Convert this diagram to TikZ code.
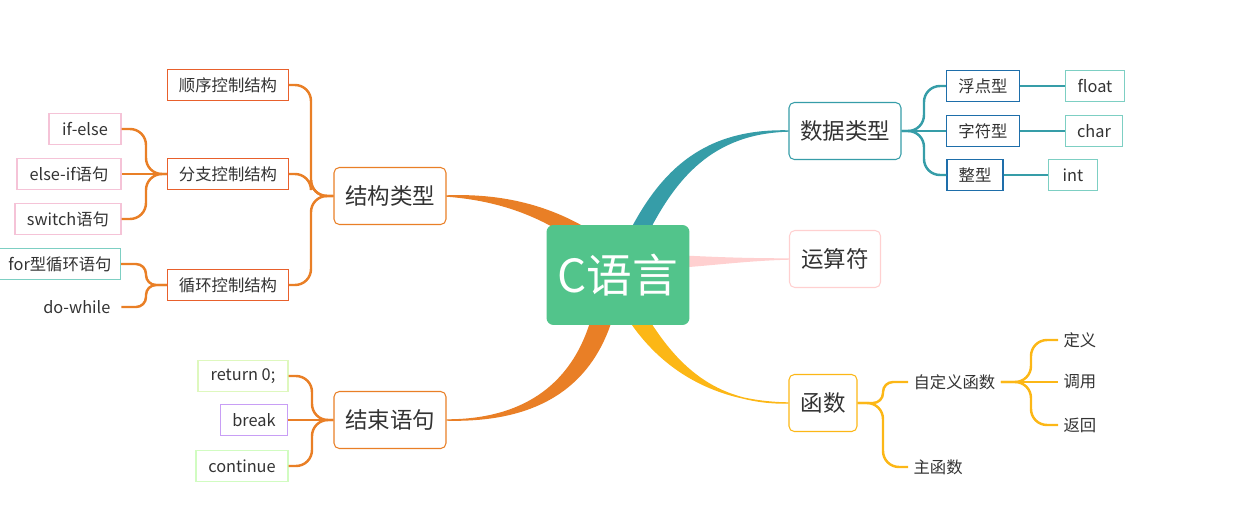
\documentclass[tikz,border=0pt]{standalone}
\usepackage{fontspec}
\setmainfont{Noto Sans CJK SC}
\usepackage{xcolor}
\definecolor{mmgreen}{RGB}{82,196,139}
\definecolor{mmorange}{RGB}{233,127,38}
\definecolor{mmred}{RGB}{232,96,44}
\definecolor{mmteal}{RGB}{54,157,168}
\definecolor{mmpink}{RGB}{255,208,208}
\definecolor{mmyellow}{RGB}{252,183,22}
\definecolor{mmblue}{RGB}{30,110,170}
\definecolor{mmaqua}{RGB}{125,207,195}
\definecolor{mmrose}{RGB}{245,195,215}
\definecolor{mmlime}{RGB}{222,248,190}
\definecolor{mmviolet}{RGB}{200,158,245}
\definecolor{mmtext}{RGB}{51,51,51}
\usepackage{tikz}
\tikzset{
  topic/.style={draw, fill=white, rounded corners=3pt, line width=0.6pt, minimum height=1.14cm, inner sep=0pt, font=\fontsize{12.8}{15}\selectfont, text=mmtext},
  sub/.style={draw, fill=white, line width=0.6pt, minimum height=0.62cm, inner sep=0pt, font=\fontsize{9.3}{11}\selectfont, text=mmtext},
  leaf/.style={inner sep=3pt, font=\fontsize{9.3}{11}\selectfont, text=mmtext},
  twig/.style={line width=1.4pt, rounded corners=0.32cm},
}

\begin{document}
\begin{tikzpicture}[x=0.02cm, y=-0.02cm]
  \useasboundingbox (0,0) rectangle (1235,508);

  % level 1 topics
  \node[topic, draw=mmorange, minimum width=2.24cm] (jg) at (390,196) {结构类型};
  \node[topic, draw=mmorange, minimum width=2.24cm] (js) at (390,420) {结束语句};
  \node[topic, draw=mmteal, minimum width=2.24cm] (sj) at (845,131) {数据类型};
  \node[topic, draw=mmpink, minimum width=1.82cm] (ys) at (835,259) {运算符};
  \node[topic, draw=mmyellow, minimum width=1.36cm] (hs) at (823,403) {函数};

  % main branches
  \filldraw[mmorange, line width=0.8pt] (jg.east) .. controls (500,194) and (545,205) .. (585,228) -- (575,240) .. controls (540,216) and (500,200) .. (jg.east) -- cycle;
  \filldraw[mmorange, line width=0.8pt] (js.east) .. controls (520,420) and (572,388) .. (592,318) -- (612,318) .. controls (588,396) and (525,422) .. (js.east) -- cycle;
  \filldraw[mmteal, line width=0.8pt] (sj.west) .. controls (705,129) and (662,170) .. (630,232) -- (646,236) .. controls (675,178) and (712,133) .. (sj.west) -- cycle;
  \filldraw[mmpink, line width=0.8pt] (ys.west) .. controls (750,259) and (720,258) .. (680,256) -- (680,267) .. controls (720,264) and (750,260) .. (ys.west) -- cycle;
  \filldraw[mmyellow, line width=0.8pt] (hs.west) .. controls (715,402) and (662,370) .. (628,318) -- (646,316) .. controls (680,372) and (720,404) .. (hs.west) -- cycle;

  % root
  \node[fill=mmgreen, rounded corners=4pt, minimum width=2.86cm, minimum height=2cm, text=white, font=\fontsize{26}{30}\selectfont] (root) at (618,275) {C语言};

  % structure types
  \node[sub, draw=mmred, minimum width=2.42cm] (sx) at (228,85) {顺序控制结构};
  \node[sub, draw=mmred, minimum width=2.42cm] (fz) at (228,174) {分支控制结构};
  \node[sub, draw=mmred, minimum width=2.42cm] (xh) at (228,285) {循环控制结构};
  \coordinate (fkA) at (311,196);
  \draw[twig, mmorange] (jg.west) -- (fkA) |- (sx.east);
  \draw[twig, mmorange] (jg.west) -- (fkA) |- (fz.east);
  \draw[twig, mmorange] (jg.west) -- (fkA) |- (xh.east);

  \node[sub, draw=mmrose, minimum width=1.44cm] (ie) at (85,129) {if-else};
  \node[sub, draw=mmrose, minimum width=2.08cm] (ei) at (69,174) {else-if语句};
  \node[sub, draw=mmrose, minimum width=2.12cm] (sw) at (68,219) {switch语句};
  \coordinate (fkB) at (146,174);
  \draw[twig, mmorange] (fz.west) -- (fkB) |- (ie.east);
  \draw[twig, mmorange] (fz.west) -- (ei.east);
  \draw[twig, mmorange] (fz.west) -- (fkB) |- (sw.east);

  \node[sub, draw=mmaqua, minimum width=2.42cm] (fr) at (60,264) {for型循环语句};
  \node[leaf, anchor=east] (dw) at (116,307) {do-while};
  \coordinate (fkC) at (146,285);
  \draw[twig, rounded corners=0.2cm, mmorange] (xh.west) -- (fkC) |- (fr.east);
  \draw[twig, rounded corners=0.2cm, mmorange] (xh.west) -- (fkC) |- ([xshift=3pt]dw.east);

  % end statements
  \node[sub, draw=mmlime, minimum width=1.8cm] (rt) at (243,376) {return 0;};
  \node[sub, draw=mmviolet, minimum width=1.34cm] (bk) at (254,420) {break};
  \node[sub, draw=mmlime!80!green!60, minimum width=1.84cm] (ct) at (242,466) {continue};
  \coordinate (fkD) at (312,420);
  \draw[twig, mmorange] (js.west) -- (fkD) |- (rt.east);
  \draw[twig, mmorange] (js.west) -- (bk.east);
  \draw[twig, mmorange] (js.west) -- (fkD) |- (ct.east);

  % data types
  \node[sub, draw=mmblue, minimum width=1.46cm] (fd) at (983,86) {浮点型};
  \node[sub, draw=mmblue, minimum width=1.46cm] (zf) at (983,131) {字符型};
  \node[sub, draw=mmblue, minimum width=1.12cm] (zx) at (975,175) {整型};
  \coordinate (fkE) at (924,131);
  \draw[twig, mmteal] (sj.east) -- (fkE) |- (fd.west);
  \draw[twig, mmteal] (sj.east) -- (zf.west);
  \draw[twig, mmteal] (sj.east) -- (fkE) |- (zx.west);

  \node[sub, draw=mmaqua, minimum width=1.18cm] (fl) at (1095,86) {float};
  \node[sub, draw=mmaqua, minimum width=1.14cm] (ch) at (1094,131) {char};
  \node[sub, draw=mmaqua, minimum width=0.98cm] (it) at (1073,175) {int};
  \draw[twig, mmteal] (fd.east) -- (fl.west);
  \draw[twig, mmteal] (zf.east) -- (ch.west);
  \draw[twig, mmteal] (zx.east) -- (it.west);

  % functions
  \node[leaf, anchor=west] (zd) at (908,382) {自定义函数};
  \node[leaf, anchor=west] (zh) at (908,467) {主函数};
  \coordinate (fkF) at (883,403);
  \draw[twig, rounded corners=0.2cm, mmyellow] (hs.east) -- (fkF) |- (zd.west);
  \draw[twig, mmyellow] (hs.east) -- (fkF) |- (zh.west);

  \node[leaf, anchor=west] (dy) at (1058,340) {定义};
  \node[leaf, anchor=west] (dd) at (1058,382) {调用};
  \node[leaf, anchor=west] (fh) at (1058,425) {返回};
  \coordinate (fkG) at (1031,382);
  \draw[twig, mmyellow] (zd.east) -- (fkG) |- (dy.west);
  \draw[twig, mmyellow] (zd.east) -- (dd.west);
  \draw[twig, mmyellow] (zd.east) -- (fkG) |- (fh.west);
\end{tikzpicture}
\end{document}
